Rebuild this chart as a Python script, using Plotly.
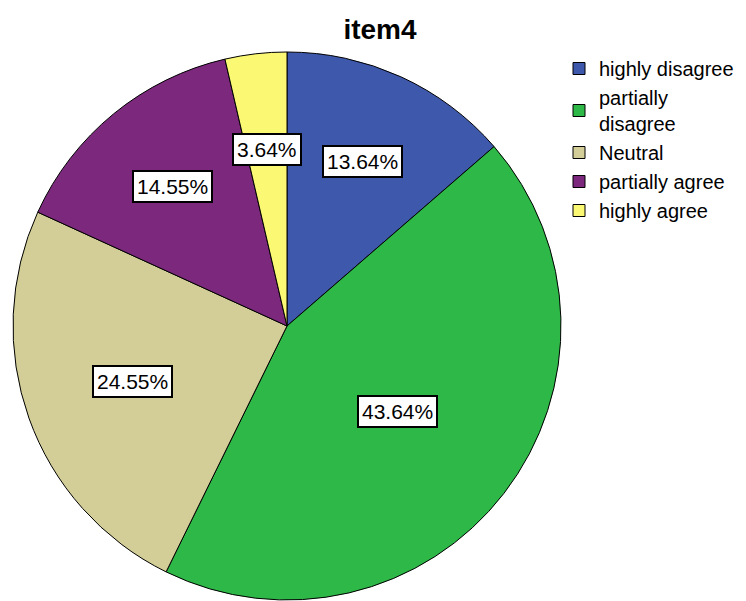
import math
import plotly.graph_objects as go

categories = ["highly disagree", "partially<br>disagree", "Neutral", "partially agree", "highly agree"]
counts = [15, 48, 27, 16, 4]
colors = ["#3E58AC", "#2EB848", "#D3CE97", "#7C287D", "#FBF873"]
title_text = "item4"

W, H = 746, 601
# pie geometry in pixels
cx, cy, R = 287, 326, 274
label_frac = [0.66, 0.51, 0.60, 0.66, 0.65]

fig = go.Figure(go.Pie(
    labels=categories, values=counts, sort=False, direction="clockwise", rotation=0,
    marker=dict(colors=colors, line=dict(color="black", width=1)),
    textinfo="none", hoverinfo="label+percent",
    domain=dict(x=[(cx - R) / W, (cx + R) / W], y=[1 - (cy + R) / H, 1 - (cy - R) / H]),
))

total = sum(counts)
cum = 0
anns = []
for i, c in enumerate(counts):
    mid = (cum + c / 2) / total * 2 * math.pi
    cum += c
    r = R * label_frac[i]
    px = cx + r * math.sin(mid)
    py = cy - r * math.cos(mid)
    anns.append(dict(x=px / W, y=1 - py / H, xref="paper", yref="paper", showarrow=False,
                     xanchor="center", yanchor="middle",
                     text=f"{c / total * 100:.2f}%", font=dict(family="Liberation Sans, Arial", size=21, color="black"),
                     bgcolor="white", bordercolor="black", borderwidth=2, borderpad=3))

fig.update_layout(
    width=W, height=H, margin=dict(l=0, r=0, t=0, b=0, autoexpand=False),
    paper_bgcolor="white", plot_bgcolor="white",
    title=dict(text=f"<b>{title_text}</b>", x=380 / W, xanchor="center", y=1 - 29 / H, yanchor="middle",
               font=dict(family="Liberation Sans, Arial", size=28, color="black")),
    legend=dict(x=559 / W, y=1 - 49 / H, xanchor="left", yanchor="top",
                font=dict(family="Liberation Sans, Arial", size=20, color="black"),
                itemwidth=30, tracegroupgap=0, bgcolor="rgba(0,0,0,0)"),
    annotations=anns,
)
fig.write_html("out.html")
